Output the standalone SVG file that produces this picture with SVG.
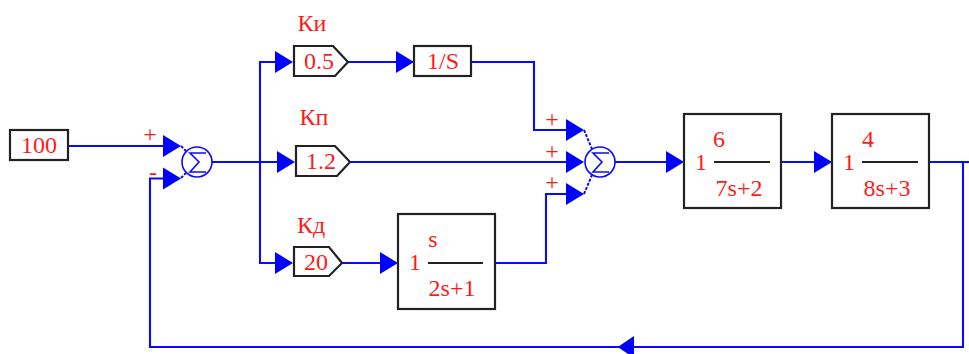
<svg xmlns="http://www.w3.org/2000/svg" width="969" height="354" viewBox="0 0 969 354">
<style>
.b{fill:#fff;stroke:#222;stroke-width:2.2}
.w{fill:none;stroke:#0a0aff;stroke-width:2.1}
.s{fill:none;stroke:#0a0aff;stroke-width:1.6}
.d{fill:none;stroke:#0a0aff;stroke-width:2;stroke-dasharray:3 1.500}
.f{stroke:#222;stroke-width:2.200}
text{font-family:"Liberation Serif","Times New Roman",serif;fill:#ff1a1a;font-size:24px;text-anchor:middle}
</style>
<defs>
<path id="a" d="M0-11 L18 0 L0 11Z" fill="#0000ff"/>
<g id="sum"><circle r="15" class="s"/><path class="s" d="M9-9H-7L2 0L-7 10H9"/></g>
</defs>
<rect width="969" height="354" fill="#fff"/>
<g id="connectors">
<path class="w" d="M68 146H165"/>
<path class="w" d="M212 162H278M260 162V62H276M260 162V263H276"/>
<path class="w" d="M348 62H397"/>
<path class="w" d="M471 62H534V130H567"/>
<path class="w" d="M350 162H567"/>
<path class="w" d="M342 263H381"/>
<path class="w" d="M495 263H546V194H567"/>
<path class="w" d="M615 162H667"/>
<path class="w" d="M781 162H815"/>
<path class="w" d="M929 162H969M963 162V347H150V178.500H165"/>
<path class="d" d="M584 130L592 149M584 194L592 175M181 146L186 151M181 178L186 173"/>
<use href="#a" x="163" y="146"/><use href="#a" x="163" y="178.500"/>
<use href="#a" x="275" y="62"/><use href="#a" x="277" y="162"/><use href="#a" x="275" y="263"/>
<use href="#a" x="396" y="62"/><use href="#a" x="380" y="263"/>
<use href="#a" x="566" y="130"/><use href="#a" x="566" y="162"/><use href="#a" x="566" y="194"/>
<use href="#a" x="666" y="162"/><use href="#a" x="814" y="162"/>
<use href="#a" transform="translate(634 347) scale(-.9 1)"/>
</g>
<g id="source"><rect class="b" x="10" y="130" width="58" height="30"/><text x="39" y="153">100</text></g>
<g id="sum1"><use href="#sum" x="197" y="162"/><text x="150" y="142">+</text><text x="153" y="180">-</text></g>
<g id="ki"><path class="b" d="M294 46H333L348 62L335 76H294Z"/><text x="319" y="69">0.5</text><text x="312" y="31">Ки</text></g>
<g id="kp"><path class="b" d="M296 146H335L350 162L337 176H296Z"/><text x="321" y="169">1.2</text><text x="314" y="125">Кп</text></g>
<g id="kd"><path class="b" d="M294 247H329L342 263L329 276H294Z"/><text x="316" y="270">20</text><text x="311" y="233">Кд</text></g>
<g id="integrator"><rect class="b" x="414" y="46" width="57" height="30"/><text x="443" y="69">1/S</text></g>
<g id="sum2"><use href="#sum" x="600" y="162"/><text x="552" y="127">+</text><text x="552" y="159">+</text><text x="552" y="190">+</text></g>
<g id="derivative"><rect class="b" x="398" y="214" width="97" height="95"/><text x="415" y="270">1</text><text x="433" y="247">s</text><line class="f" x1="428" y1="263" x2="483" y2="263"/><text x="452" y="296">2s+1</text></g>
<g id="plant1"><rect class="b" x="684" y="114" width="97" height="94"/><text x="701" y="170">1</text><text x="719" y="147">6</text><line class="f" x1="714" y1="162" x2="770" y2="162"/><text x="739" y="196">7s+2</text></g>
<g id="plant2"><rect class="b" x="832" y="114" width="97" height="94"/><text x="849" y="170">1</text><text x="868" y="147">4</text><line class="f" x1="862" y1="162" x2="918" y2="162"/><text x="887" y="196">8s+3</text></g>
</svg>
